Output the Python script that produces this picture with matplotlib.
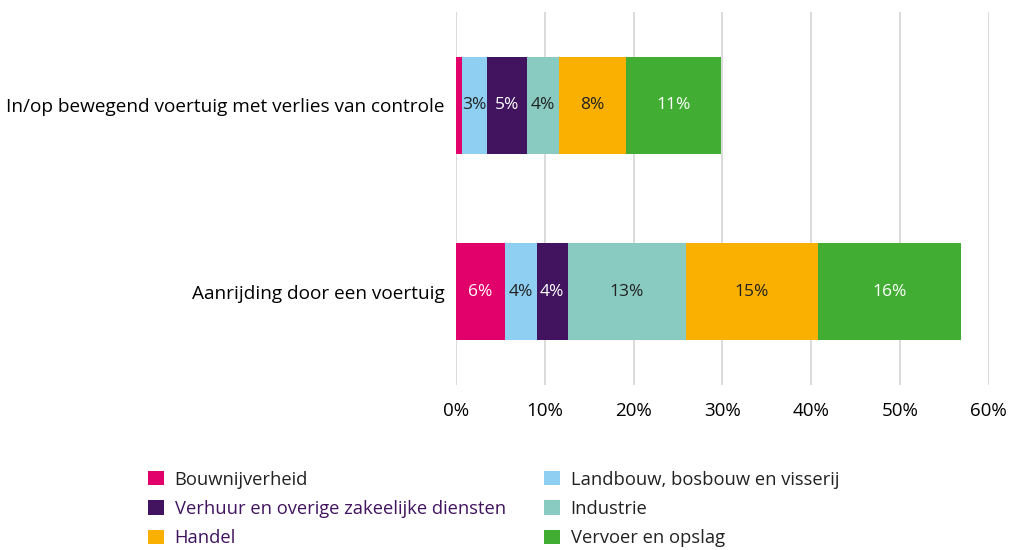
import numpy as np
import matplotlib.pyplot as plt

plt.rcParams['font.family'] = ['Open Sans', 'DejaVu Sans']

categories = ['Aanrijding door een voertuig',
              'In/op bewegend voertuig met verlies van controle']
sectors = ['Bouwnijverheid', 'Landbouw, bosbouw en visserij',
           'Verhuur en overige zakeelijke diensten', 'Industrie',
           'Handel', 'Vervoer en opslag']
# values per sector, [Aanrijding, In/op bewegend]
bouw = [5.5, 0.7]
landbouw = [3.6, 2.8]
verhuur = [3.5, 4.5]
industrie = [13.3, 3.6]
handel = [14.9, 7.5]
vervoer = [16.1, 10.8]
labels = [['6%', ''], ['4%', '3%'], ['4%', '5%'], ['13%', '4%'], ['15%', '8%'], ['16%', '11%']]

colors = ['#E2006A', '#8FCFF1', '#42145F', '#89CBC1', '#F9B000', '#42AD33']
txtcol = ['white', '#222222', 'white', '#222222', '#222222', 'white']

fig = plt.figure(figsize=(10.11, 5.5), dpi=100)
ax = fig.add_axes([0.451, 0.30, 0.527, 0.678])

y = np.arange(len(categories))
left = np.zeros(len(categories))
bars = []
for vals, c, tc, lab, name in zip([bouw, landbouw, verhuur, industrie, handel, vervoer],
                                  colors, txtcol, labels, sectors):
    vals = np.array(vals)
    b = ax.barh(y, vals, left=left, height=0.52, color=c, label=name, zorder=3)
    bars.append(b)
    for i in range(len(y)):
        if lab[i]:
            ax.text(left[i] + vals[i] / 2, y[i], lab[i], ha='center', va='center',
                    color=tc, fontsize=12.5, zorder=4)
    left += vals

ax.set_xlim(0, 60)
ax.set_ylim(-0.5, 1.5)
ax.set_xticks(np.arange(0, 61, 10))
ax.set_xticklabels([f'{v}%' for v in range(0, 61, 10)], fontsize=13.5)
ax.set_yticks(y)
ax.set_yticklabels(categories, fontsize=13.7)
ax.tick_params(axis='both', length=0, pad=8)
ax.tick_params(axis='x', pad=12)
ax.grid(axis='x', color='#d4d4d4', linewidth=1.2, zorder=0)
for s in ax.spines.values():
    s.set_visible(False)

order = [0, 2, 4, 1, 3, 5]
leg = fig.legend([bars[i] for i in order], [sectors[i] for i in order],
                 loc='lower left', bbox_to_anchor=(0.13, -0.025), ncol=2,
                 frameon=False, fontsize=13.2, handlelength=0.85, handleheight=0.85,
                 handletextpad=0.6, columnspacing=2.1, labelspacing=0.62)
for i, t in zip(order, leg.get_texts()):
    if i in (2, 4):
        t.set_color('#42145F')
    else:
        t.set_color('#222222')

fig.savefig('out.png', dpi=100)
